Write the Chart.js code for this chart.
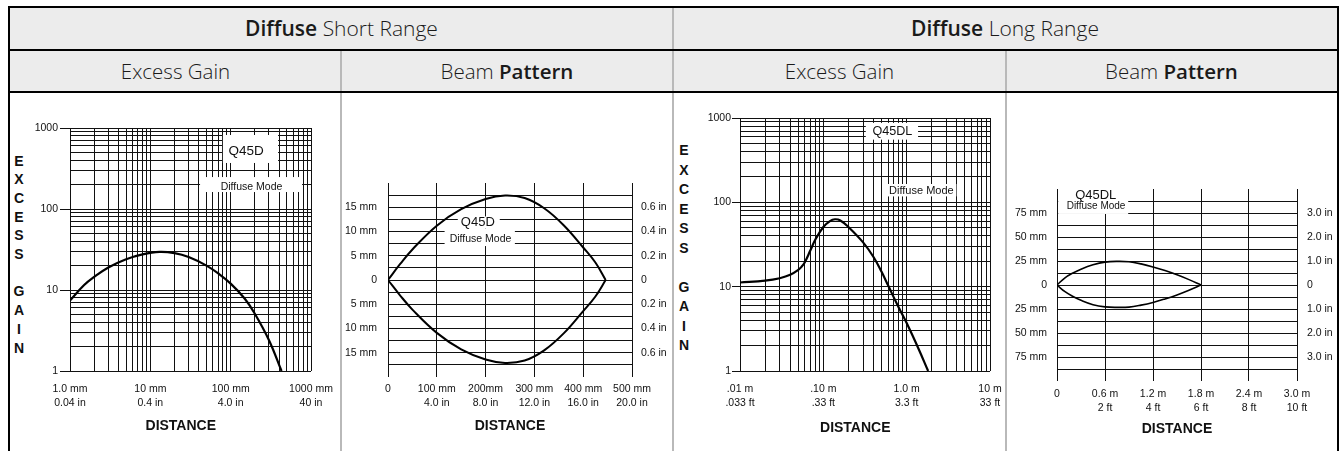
<!DOCTYPE html>
<html><head><meta charset="utf-8">
<script src="https://cdn.jsdelivr.net/npm/chart.js@4"></script>
<style>
html,body{margin:0;padding:0;background:#fff;}
#wrap{position:relative;width:1340px;height:451px;overflow:hidden;background:#fff;}
.blk{position:absolute;background:#000;}
.sep{position:absolute;background:#b9b9b9;}
.bg{position:absolute;background:#ececec;}
.hd{position:absolute;font-family:'Open Sans',sans-serif;font-weight:350;color:#1a1a1a;text-align:center;white-space:nowrap;}
.hd b{font-weight:650;}
.vl{position:absolute;font-family:'Liberation Sans',Arial,sans-serif;font-weight:bold;font-size:14px;color:#111;text-align:center;width:20px;}
canvas{position:absolute;}
</style></head>
<body><div id="wrap">
<div class="bg" style="left:10px;top:8px;width:1327px;height:41px;"></div>
<div class="bg" style="left:10px;top:51px;width:1327px;height:40px;"></div>
<div class="sep" style="left:672px;top:8px;width:2px;height:443px;"></div>
<div class="sep" style="left:340px;top:51px;width:2px;height:400px;"></div>
<div class="sep" style="left:1005px;top:51px;width:2px;height:400px;"></div>
<div class="blk" style="left:8px;top:6px;width:1331px;height:2px;"></div>
<div class="blk" style="left:8px;top:49px;width:1331px;height:2px;"></div>
<div class="blk" style="left:8px;top:91px;width:1331px;height:2px;"></div>
<div class="blk" style="left:8px;top:6px;width:2px;height:445px;"></div>
<div class="blk" style="left:1337px;top:6px;width:2px;height:445px;"></div>
<div class="hd" style="left:10px;top:8px;width:663px;height:41px;line-height:41px;font-size:21px;"><b>Diffuse</b> Short Range</div>
<div class="hd" style="left:673px;top:8px;width:664px;height:41px;line-height:41px;font-size:21px;"><b>Diffuse</b> Long Range</div>
<div class="hd" style="left:10px;top:51px;width:331px;height:40px;line-height:40px;font-size:20.5px;">Excess Gain</div>
<div class="hd" style="left:341px;top:51px;width:332px;height:40px;line-height:40px;font-size:20.5px;">Beam <b>Pattern</b></div>
<div class="hd" style="left:673px;top:51px;width:333px;height:40px;line-height:40px;font-size:20.5px;">Excess Gain</div>
<div class="hd" style="left:1006px;top:51px;width:331px;height:40px;line-height:40px;font-size:20.5px;">Beam <b>Pattern</b></div>
<div class="vl" style="left:9px;top:151.5px;line-height:18.7px;">E<br>X<br>C<br>E<br>S<br>S<br>&nbsp;<br>G<br>A<br>I<br>N</div>
<div class="vl" style="left:674px;top:141px;line-height:19.5px;">E<br>X<br>C<br>E<br>S<br>S<br>&nbsp;<br>G<br>A<br>I<br>N</div>
<canvas id="c1"></canvas>
<canvas id="c2"></canvas>
<canvas id="c3"></canvas>
<canvas id="c4"></canvas>
</div>
<script>
// ================= DATA =================
// Diffuse Short Range - Excess Gain (distance in mm)
const eg1Distance = [1, 1.5, 2, 3, 5, 8, 13, 20, 30, 50, 70, 100, 150, 200, 300, 430];
const eg1Gain     = [7.4, 11.5, 14.5, 19, 24, 27.5, 29.5, 28.5, 25.5, 20, 16, 12, 7.8, 5.1, 2.4, 1];
const eg1XTicks   = [1, 10, 100, 1000];
const eg1XLabels  = [['1.0 mm', '0.04 in'], ['10 mm', '0.4 in'], ['100 mm', '4.0 in'], ['1000 mm', '40 in']];

// Diffuse Long Range - Excess Gain (distance in m)
const eg2Distance = [0.01, 0.02, 0.03, 0.04, 0.05, 0.055, 0.06, 0.07, 0.08, 0.1, 0.12, 0.138, 0.16, 0.2, 0.3, 0.4, 0.5, 0.6, 0.8, 1.0, 1.4, 1.81];
const eg2Gain     = [11.2, 11.8, 12.6, 13.8, 15.8, 17.3, 19.5, 27, 36, 51, 60, 63, 61, 51, 33.5, 22.5, 15, 10.3, 5.7, 3.7, 1.8, 1];
const eg2XTicks   = [0.01, 0.1, 1, 10];
const eg2XLabels  = [['.01 m', '.033 ft'], ['.10 m', '.33 ft'], ['1.0 m', '3.3 ft'], ['10 m', '33 ft']];

const egYTicks  = [1, 10, 100, 1000];
const egYLabels = ['1', '10', '100', '1000'];

// Diffuse Short Range - Beam Pattern (distance mm, width mm)
const bp1Distance = [0, 25, 50, 100, 150, 200, 240, 280, 320, 360, 400, 425, 446];
const bp1Upper    = [0, 3.3, 6.3, 11.2, 14.6, 16.7, 17.4, 16.9, 14.8, 11.3, 6.7, 3.6, 0];
const bp1Lower    = [0, -3.2, -6.1, -10.9, -14.3, -16.4, -17.1, -16.6, -14.5, -11.0, -6.4, -3.4, 0];
const bp1XTicks   = [0, 100, 200, 300, 400, 500];
const bp1XLabels  = ['0', ['100 mm', '4.0 in'], ['200mm', '8.0 in'], ['300 mm', '12.0 in'], ['400 mm', '16.0 in'], ['500 mm', '20.0 in']];
const bp1YTicks   = [15, 10, 5, 0, -5, -10, -15];
const bp1YLeft    = ['15 mm', '10 mm', '5 mm', '0', '5 mm', '10 mm', '15 mm'];
const bp1YRight   = ['0.6 in', '0.4 in', '0.2 in', '0', '0.2 in', '0.4 in', '0.6 in'];

// Diffuse Long Range - Beam Pattern (distance m, width mm)
const bp2Distance = [0, 0.1, 0.2, 0.3, 0.45, 0.6, 0.75, 0.9, 1.05, 1.2, 1.35, 1.5, 1.65, 1.8];
const bp2Upper    = [0, 7.5, 12.5, 16.5, 21, 23.8, 24.6, 24.2, 22, 18.8, 15, 10.6, 5.6, 0];
const bp2Lower    = [0, -7, -12, -16, -20.5, -22.8, -23.3, -23, -21, -18.2, -14.5, -10.3, -5.4, 0];
const bp2XTicks   = [0, 0.6, 1.2, 1.8, 2.4, 3.0];
const bp2XLabels  = ['0', ['0.6 m', '2 ft'], ['1.2 m', '4 ft'], ['1.8 m', '6 ft'], ['2.4 m', '8 ft'], ['3.0 m', '10 ft']];
const bp2YTicks   = [75, 50, 25, 0, -25, -50, -75];
const bp2YLeft    = ['75 mm', '50 mm', '25 mm', '0', '25 mm', '50 mm', '75 mm'];
const bp2YRight   = ['3.0 in', '2.0 in', '1.0 in', '0', '1.0 in', '2.0 in', '3.0 in'];

// ================= HELPERS =================
const FAMILY = "'Liberation Sans', Arial, sans-serif";
const INK = '#111';
const GRID = '#111';
const CLEAR = 'rgba(0,0,0,0)';

function logGrid(e0, e1) {
  const out = [];
  for (let e = e0; e < e1; e++) for (let m = 1; m <= 9; m++) out.push(Number((m * Math.pow(10, e)).toPrecision(6)));
  out.push(Number(Math.pow(10, e1).toPrecision(6)));
  return out;
}
function stepGrid(a, b, s) { const out = []; for (let v = a; v <= b + 1e-9; v += s) out.push(Number(v.toFixed(4))); return out; }
function findIdx(arr, v) { return arr.findIndex(a => Math.abs(a - v) <= 1e-9 * Math.max(1, Math.abs(a))); }
function pts(xs, ys) { return xs.map((x, i) => ({ x: x, y: ys[i] })); }

function annotPlugin(items) {
  return {
    id: 'annot',
    beforeDatasetsDraw(chart) {
      const { ctx } = chart; const xs = chart.scales.x, ys = chart.scales.y;
      ctx.save();
      items.forEach(it => {
        if (it.box) {
          const x1 = xs.getPixelForValue(it.box[0]), x2 = xs.getPixelForValue(it.box[1]);
          const y1 = ys.getPixelForValue(it.box[2]), y2 = ys.getPixelForValue(it.box[3]);
          ctx.fillStyle = '#fff';
          ctx.fillRect(Math.min(x1, x2), Math.min(y1, y2), Math.abs(x2 - x1), Math.abs(y2 - y1));
        }
      });
      items.forEach(it => {
        if (it.text) {
          ctx.fillStyle = INK; ctx.font = it.font; ctx.textAlign = 'center'; ctx.textBaseline = 'middle';
          ctx.fillText(it.text, xs.getPixelForValue(it.at[0]), ys.getPixelForValue(it.at[1]));
        }
      });
      ctx.restore();
    }
  };
}

function makeChart(id, box, area, spec) {
  const cv = document.getElementById(id);
  cv.width = box.w; cv.height = box.h;
  Object.assign(cv.style, { left: box.x + 'px', top: box.y + 'px', width: box.w + 'px', height: box.h + 'px' });
  const aL = area.left - box.x, aT = area.top - box.y, aR = area.right - box.x, aB = area.bottom - box.y;
  spec.scales.x.afterFit = s => { s.height = box.h - aB; };
  spec.scales.y.afterFit = s => { s.width = aL; };
  if (spec.scales.y2) spec.scales.y2.afterFit = s => { s.width = box.w - aR; };
  return new Chart(cv, {
    type: 'line',
    data: { datasets: spec.datasets },
    options: {
      responsive: false, animation: false, devicePixelRatio: 1,
      layout: { padding: { left: 0, top: aT, right: spec.scales.y2 ? 0 : box.w - aR, bottom: 0 } },
      plugins: { legend: { display: false }, tooltip: { enabled: false } },
      elements: { point: { radius: 0 } },
      scales: spec.scales
    },
    plugins: [annotPlugin(spec.annots)]
  });
}

const tickFont = { family: FAMILY, size: 10.5, lineHeight: 1.333 };
const titleFont = { family: FAMILY, size: 14, weight: 'bold', lineHeight: 1.2 };
const curve = (data, w) => ({ data: data, borderColor: '#000', borderWidth: w, fill: false, tension: 0.4, pointRadius: 0 });

function logXScale(min, max, grid, tickVals, tickLabels, tl, pad, titlePad, titleText) {
  return {
    type: 'logarithmic', min: min, max: max, border: { display: false },
    afterBuildTicks: s => { s.ticks = grid.map(v => ({ value: v })); },
    grid: { color: GRID, lineWidth: 1, drawTicks: true, tickLength: tl, tickColor: CLEAR },
    ticks: { autoSkip: false, maxRotation: 0, minRotation: 0, padding: pad, color: INK, font: tickFont,
      callback: v => { const i = findIdx(tickVals, v); return i >= 0 ? tickLabels[i] : ''; } },
    title: { display: true, text: titleText, color: INK, font: titleFont, padding: { top: 0, bottom: titlePad } }
  };
}
function logYScale(grid, tl, pad) {
  return {
    type: 'logarithmic', min: 1, max: 1000, border: { display: false },
    afterBuildTicks: s => { s.ticks = grid.map(v => ({ value: v })); },
    grid: { color: GRID, lineWidth: 1, drawTicks: true, tickLength: tl,
      tickColor: c => (c.tick && findIdx(egYTicks, c.tick.value) >= 0) ? GRID : CLEAR },
    ticks: { autoSkip: false, padding: pad, color: INK, font: tickFont,
      callback: v => { const i = findIdx(egYTicks, v); return i >= 0 ? egYLabels[i] : ''; } }
  };
}
function linXScale(min, max, vals, labels, pad, titlePad, titleText) {
  return {
    type: 'linear', min: min, max: max, border: { display: false },
    afterBuildTicks: s => { s.ticks = vals.map(v => ({ value: v })); },
    grid: { color: GRID, lineWidth: 1, drawTicks: false },
    ticks: { autoSkip: false, maxRotation: 0, minRotation: 0, padding: pad, color: INK, font: tickFont,
      callback: v => { const i = findIdx(vals, v); return i >= 0 ? labels[i] : ''; } },
    title: { display: true, text: titleText, color: INK, font: titleFont, padding: { top: 0, bottom: titlePad } }
  };
}
function linYScale(pos, min, max, grid, vals, labels, pad, showGrid) {
  return {
    type: 'linear', position: pos, min: min, max: max, border: { display: false },
    afterBuildTicks: s => { s.ticks = grid.map(v => ({ value: v })); },
    grid: { display: showGrid, color: GRID, lineWidth: 1, drawTicks: false },
    ticks: { autoSkip: false, padding: pad, color: INK, font: tickFont,
      callback: v => { const i = findIdx(vals, v); return i >= 0 ? labels[i] : ''; } }
  };
}

// ---- Chart 1: Short range excess gain ----
makeChart('c1', { x: 10, y: 93, w: 331, h: 358 }, { left: 70, top: 128, right: 311, bottom: 371 }, {
  datasets: [curve(pts(eg1Distance, eg1Gain), 2.2)],
  scales: {
    x: logXScale(1, 1000, logGrid(0, 3), eg1XTicks, eg1XLabels, 8, 3, 16.5, 'DISTANCE\u00a0\u00a0\u00a0\u00a0\u00a0'),
    y: logYScale(logGrid(0, 3), 10, 2)
  },
  annots: [
    { box: [80, 389, 820, 370] },
    { box: [41.6, 774, 248, 162] },
    { text: 'Q45D', at: [155.6, 520], font: '13.5px ' + FAMILY },
    { text: 'Diffuse Mode', at: [181.6, 188.5], font: '10.5px ' + FAMILY }
  ]
});

// ---- Chart 2: Short range beam pattern ----
makeChart('c2', { x: 343, y: 93, w: 330, h: 358 }, { left: 388, top: 183, right: 632, bottom: 377 }, {
  datasets: [curve(pts(bp1Distance, bp1Upper), 2), curve(pts(bp1Distance, bp1Lower), 2)],
  scales: {
    x: linXScale(0, 500, bp1XTicks, bp1XLabels, 5, 16.5, 'DISTANCE'),
    y: linYScale('left', -20, 20, stepGrid(-17.5, 17.5, 2.5), bp1YTicks, bp1YLeft, 11, true),
    y2: linYScale('right', -20, 20, stepGrid(-17.5, 17.5, 2.5), bp1YTicks, bp1YRight, 9, false)
  },
  annots: [
    { box: [143, 229, 13.1, 10.6] },
    { box: [116, 260, 10.6, 7.0] },
    { text: 'Q45D', at: [184, 11.9], font: '13px ' + FAMILY },
    { text: 'Diffuse Mode', at: [189.5, 8.5], font: '10.5px ' + FAMILY }
  ]
});

// ---- Chart 3: Long range excess gain ----
makeChart('c3', { x: 674, y: 93, w: 332, h: 358 }, { left: 740, top: 118, right: 990, bottom: 371 }, {
  datasets: [curve(pts(eg2Distance, eg2Gain), 2.2)],
  scales: {
    x: logXScale(0.01, 10, logGrid(-2, 1), eg2XTicks, eg2XLabels, 8, 3, 14.5, 'DISTANCE\u00a0\u00a0\u00a0\u00a0\u00a0'),
    y: logYScale(logGrid(0, 3), 8, 1)
  },
  annots: [
    { box: [0.323, 1.37, 875, 554] },
    { box: [0.52, 3.95, 165, 117.5] },
    { text: 'Q45DL', at: [0.674, 686], font: '12.6px ' + FAMILY },
    { text: 'Diffuse Mode', at: [1.5, 138], font: '11px ' + FAMILY }
  ]
});

// ---- Chart 4: Long range beam pattern ----
makeChart('c4', { x: 1007, y: 93, w: 330, h: 358 }, { left: 1057, top: 189, right: 1297, bottom: 381 }, {
  datasets: [curve(pts(bp2Distance, bp2Upper), 1.6), curve(pts(bp2Distance, bp2Lower), 1.6)],
  scales: {
    x: linXScale(0, 3.0, bp2XTicks, bp2XLabels, 6, 13.5, 'DISTANCE'),
    y: linYScale('left', -100, 100, stepGrid(-87.5, 87.5, 12.5), bp2YTicks, bp2YLeft, 10, true),
    y2: linYScale('right', -100, 100, stepGrid(-87.5, 87.5, 12.5), bp2YTicks, bp2YRight, 10, false)
  },
  annots: [
    { box: [0.015, 0.89, 100, 74] },
    { text: 'Q45DL', at: [0.484, 93.5], font: '13px ' + FAMILY },
    { text: 'Diffuse Mode', at: [0.488, 81.6], font: '10px ' + FAMILY }
  ]
});
</script>
</body></html>
